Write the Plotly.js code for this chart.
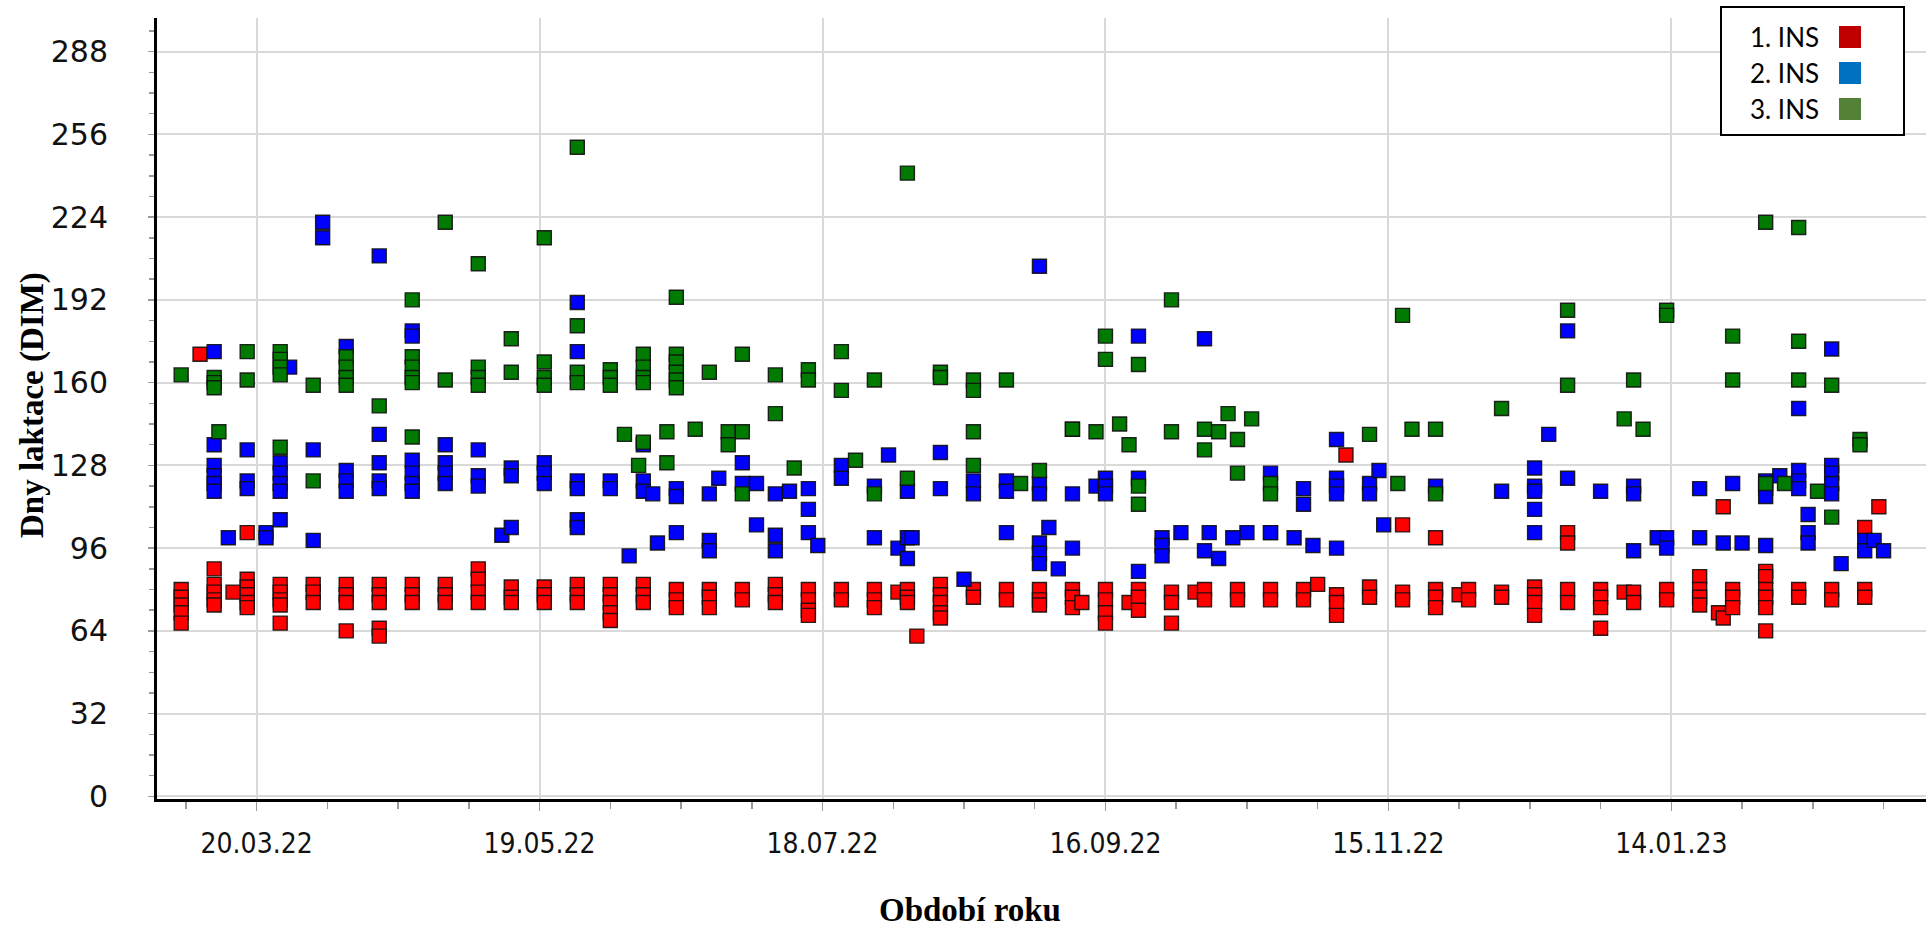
<!DOCTYPE html>
<html>
<head>
<meta charset="utf-8">
<script src="https://cdn.plot.ly/plotly-3.0.1.min.js"></script>
<style>
html,body{margin:0;padding:0;background:#fff;}
#chart{width:1926px;height:927px;}
</style>
</head>
<body>
<div id="chart"></div>
<script>
// ---- DATA (DIM = days in milk) ----
var seriesNames = ['1. INS', '2. INS', '3. INS'];

var redDays = ['2022-03-04','2022-03-08','2022-03-11','2022-03-15','2022-03-18','2022-03-25','2022-04-01','2022-04-08','2022-04-15','2022-04-22','2022-04-29','2022-05-06','2022-05-13','2022-05-20','2022-05-27','2022-06-03','2022-06-10','2022-06-17','2022-06-24','2022-07-01','2022-07-08','2022-07-15','2022-07-22','2022-07-29','2022-08-03','2022-08-05','2022-08-07','2022-08-12','2022-08-19','2022-08-26','2022-09-02','2022-09-09','2022-09-11','2022-09-16','2022-09-21','2022-09-23','2022-09-30','2022-10-05','2022-10-07','2022-10-14','2022-10-21','2022-10-28','2022-10-31','2022-11-04','2022-11-06','2022-11-11','2022-11-18','2022-11-25','2022-11-30','2022-12-02','2022-12-09','2022-12-16','2022-12-23','2022-12-30','2023-01-04','2023-01-06','2023-01-13','2023-01-20','2023-01-24','2023-01-25','2023-01-27','2023-02-03','2023-02-10','2023-02-17','2023-02-24','2023-02-27'];
var redValues = [[80,77,74,71,67],[171],[88,82,79,76,74],[79],[102,84,81,78,75,73],[82,79,76,74,67],[82,79,75],[82,78,75,64],[82,78,75,65,62],[82,78,75],[82,78,75],[88,84,79,75],[81,77,75],[81,78,75],[82,78,75],[82,78,75,71,68],[82,78,75],[80,76,73],[80,77,73],[80,76],[82,78,75],[80,76,72,70],[80,76],[80,76,73],[79],[80,77,75],[62],[82,78,75,71,69],[80,77],[80,76],[80,76,74],[80,77,73],[75],[80,76,71,67],[75],[80,77,72],[79,75,67],[79],[80,76],[80,76],[102,80,76],[80,76],[82],[78,75,70],[132],[81,77],[105,79,76],[100,80,77,73],[78],[80,76],[79,77],[81,78,75,70],[102,98,80,75],[80,77,73,65],[79],[79,75],[80,76],[85,80,77,74],[71],[112,69],[80,77,73],[87,85,80,77,73,64],[80,77],[80,76],[104,80,77],[112]];

var blueDays = ['2022-03-11','2022-03-14','2022-03-18','2022-03-22','2022-03-25','2022-03-27','2022-04-01','2022-04-03','2022-04-08','2022-04-15','2022-04-22','2022-04-29','2022-05-06','2022-05-11','2022-05-13','2022-05-20','2022-05-27','2022-06-03','2022-06-07','2022-06-10','2022-06-12','2022-06-13','2022-06-17','2022-06-24','2022-06-26','2022-07-01','2022-07-04','2022-07-08','2022-07-11','2022-07-15','2022-07-17','2022-07-22','2022-07-29','2022-08-01','2022-08-03','2022-08-05','2022-08-06','2022-08-12','2022-08-17','2022-08-19','2022-08-26','2022-09-02','2022-09-04','2022-09-06','2022-09-09','2022-09-14','2022-09-16','2022-09-23','2022-09-28','2022-10-02','2022-10-07','2022-10-08','2022-10-10','2022-10-13','2022-10-16','2022-10-21','2022-10-26','2022-10-28','2022-10-30','2022-11-04','2022-11-11','2022-11-13','2022-11-14','2022-11-25','2022-12-09','2022-12-16','2022-12-19','2022-12-23','2022-12-30','2023-01-06','2023-01-11','2023-01-13','2023-01-20','2023-01-25','2023-01-27','2023-01-29','2023-02-03','2023-02-06','2023-02-10','2023-02-12','2023-02-17','2023-02-19','2023-02-24','2023-02-26','2023-02-28'];
var blueValues = [[172,136,128,124,121,118],[100],[134,122,119],[102,100],[129,125,121,118,107],[166],[134,99],[222,216],[174,126,122,118],[209,140,129,122,119],[180,178,130,125,121,118],[136,129,125,121],[134,124,120],[101],[127,124,104],[129,125,121],[191,172,122,119,107,104],[122,119],[93],[136,122,118],[117],[98],[119,116,102],[117,99,95],[123],[129,121],[121,105],[117,101,95],[118],[119,111,102],[97],[128,123],[120,100],[132],[96],[118,100,92],[100],[133,119],[84],[122,117],[122,118,102],[205,121,117,98,94,90],[104],[88],[117,96],[120],[123,120,117],[178,123,87],[100,97,93],[102],[177,95],[102],[92],[100],[102],[125,102],[100],[119,113],[97],[138,123,120,117,96],[121,117],[126],[105],[120],[118],[127,120,118,111,102],[140],[180,123],[118],[120,117,95],[100],[100,96],[119,100],[98],[121],[98],[122,119,116,97],[124],[150,126,122,119],[109,102,98],[173,128,125,121,117],[90],[99,95],[99],[95]];

var greenDays = ['2022-03-04','2022-03-11','2022-03-12','2022-03-18','2022-03-25','2022-04-01','2022-04-08','2022-04-15','2022-04-22','2022-04-29','2022-05-06','2022-05-13','2022-05-20','2022-05-27','2022-06-03','2022-06-06','2022-06-09','2022-06-10','2022-06-15','2022-06-17','2022-06-21','2022-06-24','2022-06-28','2022-07-01','2022-07-08','2022-07-12','2022-07-15','2022-07-22','2022-07-25','2022-07-29','2022-08-05','2022-08-12','2022-08-19','2022-08-26','2022-08-29','2022-09-02','2022-09-09','2022-09-14','2022-09-16','2022-09-19','2022-09-21','2022-09-23','2022-09-30','2022-10-07','2022-10-10','2022-10-12','2022-10-14','2022-10-17','2022-10-21','2022-11-11','2022-11-17','2022-11-18','2022-11-20','2022-11-25','2022-12-09','2022-12-23','2023-01-04','2023-01-06','2023-01-08','2023-01-13','2023-01-27','2023-02-03','2023-02-07','2023-02-10','2023-02-14','2023-02-17','2023-02-23'];
var greenValues = [[163],[162,160,158],[141],[172,161],[172,169,166,163,135],[159,122],[170,166,162,159],[151],[192,170,166,162,160,139],[222,161],[206,166,162,159],[177,164],[216,168,162,159],[251,182,164,160],[165,162,159],[140],[128],[171,166,162,160,137],[141,129],[193,171,168,164,161,158],[142],[164],[141,136],[171,141,117],[163,148],[127],[165,161],[172,157],[130],[161,117],[241,123],[164,162],[161,157,141,128],[161],[121],[126],[142,142],[141],[178,169],[144],[136],[167,120,113],[192,141],[142,134],[141],[148],[138,125],[146],[121,117],[140],[121],[186],[142],[142,117],[150],[188,159],[146],[161],[142],[188,186],[178,161],[222,121],[121],[220,176,161],[118],[159,108],[138,136]];

var yTickValues = [0,32,64,96,128,160,192,224,256,288];

// ---- helpers ----
function expand(days, values){
  var x = [], y = [];
  for (var i = 0; i < days.length; i++){
    for (var j = 0; j < values[i].length; j++){ x.push(days[i]); y.push(values[i][j]); }
  }
  return {x: x, y: y};
}
var red = expand(redDays, redValues);
var blue = expand(blueDays, blueValues);
var green = expand(greenDays, greenValues);

function trace(d, name, color){
  return {
    type: 'scatter', mode: 'markers', name: name, x: d.x, y: d.y,
    showlegend: false, cliponaxis: false,
    marker: {symbol: 'square', size: 14, color: color, line: {color: 'rgba(15,15,15,0.9)', width: 1.4}}
  };
}

var data = [
  trace(red, seriesNames[0], '#ff0000'),
  trace(blue, seriesNames[1], '#0000ff'),
  trace(green, seriesNames[2], '#007a00')
];

// geometry (pixels) for the custom legend and titles
var W = 1926, H = 927, L = 157, R = 0, T = 18, B = 128;
var pw = W - L - R, ph = H - T - B;
function px(x){ return (x - L) / pw; }
function py(y){ return (H - B - y) / ph; }

var legendColors = ['#c00000', '#0070c0', '#538135'];
var legendRows = [37, 73, 109];

var shapes = [{
  type: 'rect', xref: 'paper', yref: 'paper', layer: 'above',
  x0: px(1721), x1: px(1904), y0: py(135), y1: py(7),
  fillcolor: '#ffffff', line: {color: '#000000', width: 2}
}];
var annotations = [];
for (var k = 0; k < 3; k++){
  shapes.push({
    type: 'rect', xref: 'paper', yref: 'paper', layer: 'above',
    x0: px(1839), x1: px(1861), y0: py(legendRows[k] + 11), y1: py(legendRows[k] - 11),
    fillcolor: legendColors[k], line: {width: 0}
  });
  annotations.push({
    xref: 'paper', yref: 'paper', x: px(1748), y: py(legendRows[k]),
    xanchor: 'left', yanchor: 'middle', showarrow: false, text: seriesNames[k],
    font: {family: 'Lato, "Open Sans", sans-serif', size: 26, color: '#000'}
  });
}
// axis titles (placed as in the reference)
annotations.push({
  xref: 'paper', yref: 'paper', x: px(970), y: py(910), xanchor: 'center', yanchor: 'middle',
  showarrow: false, text: '<b>Období roku</b>',
  font: {family: '"Liberation Serif", "Times New Roman", serif', size: 33, color: '#000'}
});
annotations.push({
  xref: 'paper', yref: 'paper', x: px(33), y: py(405), xanchor: 'center', yanchor: 'middle',
  textangle: -90, showarrow: false, text: '<b>Dny laktace (DIM)</b>',
  font: {family: '"Liberation Serif", "Times New Roman", serif', size: 33, color: '#000'}
});

var layout = {
  width: W, height: H,
  margin: {l: L, r: R, t: T, b: B, pad: 0},
  paper_bgcolor: '#ffffff', plot_bgcolor: '#ffffff',
  showlegend: false,
  xaxis: {
    type: 'date',
    range: ['2022-02-26 21:00', '2023-03-09 00:00'],
    tick0: '2022-03-20', dtick: 60 * 86400000,
    tickformat: '%d.%m.%y',
    showgrid: true, gridcolor: '#d9d9d9', gridwidth: 2,
    showline: true, linecolor: '#000', linewidth: 3,
    ticks: 'outside', ticklen: 9, tickcolor: '#9a9a9a', tickwidth: 1.5,
    ticklabelstandoff: 8,
    minor: {dtick: 15 * 86400000, tick0: '2022-03-20', ticks: 'outside', ticklen: 7, tickcolor: '#9a9a9a', tickwidth: 1.5, showgrid: false},
    tickfont: {family: '"Liberation Sans Narrow", "DejaVu Sans Condensed", "Liberation Sans", Arial, sans-serif', size: 28, color: '#111'},
    zeroline: false, fixedrange: true
  },
  yaxis: {
    range: [-1, 301],
    tickmode: 'array', tickvals: yTickValues, ticktext: yTickValues.map(String),
    showgrid: true, gridcolor: '#d9d9d9', gridwidth: 2,
    showline: true, linecolor: '#000', linewidth: 3,
    ticks: 'outside', ticklen: 6, tickcolor: '#9a9a9a', tickwidth: 1.5,
    ticklabelstandoff: 34,
    minor: {dtick: 8, tick0: 0, ticks: 'outside', ticklen: 5, tickcolor: '#9a9a9a', tickwidth: 1.5, showgrid: false},
    tickfont: {family: '"DejaVu Sans", Verdana, sans-serif', size: 30, color: '#111'},
    zeroline: false, fixedrange: true
  },
  shapes: shapes,
  annotations: annotations
};

Plotly.newPlot('chart', data, layout, {displayModeBar: false, staticPlot: true});
</script>
</body>
</html>
